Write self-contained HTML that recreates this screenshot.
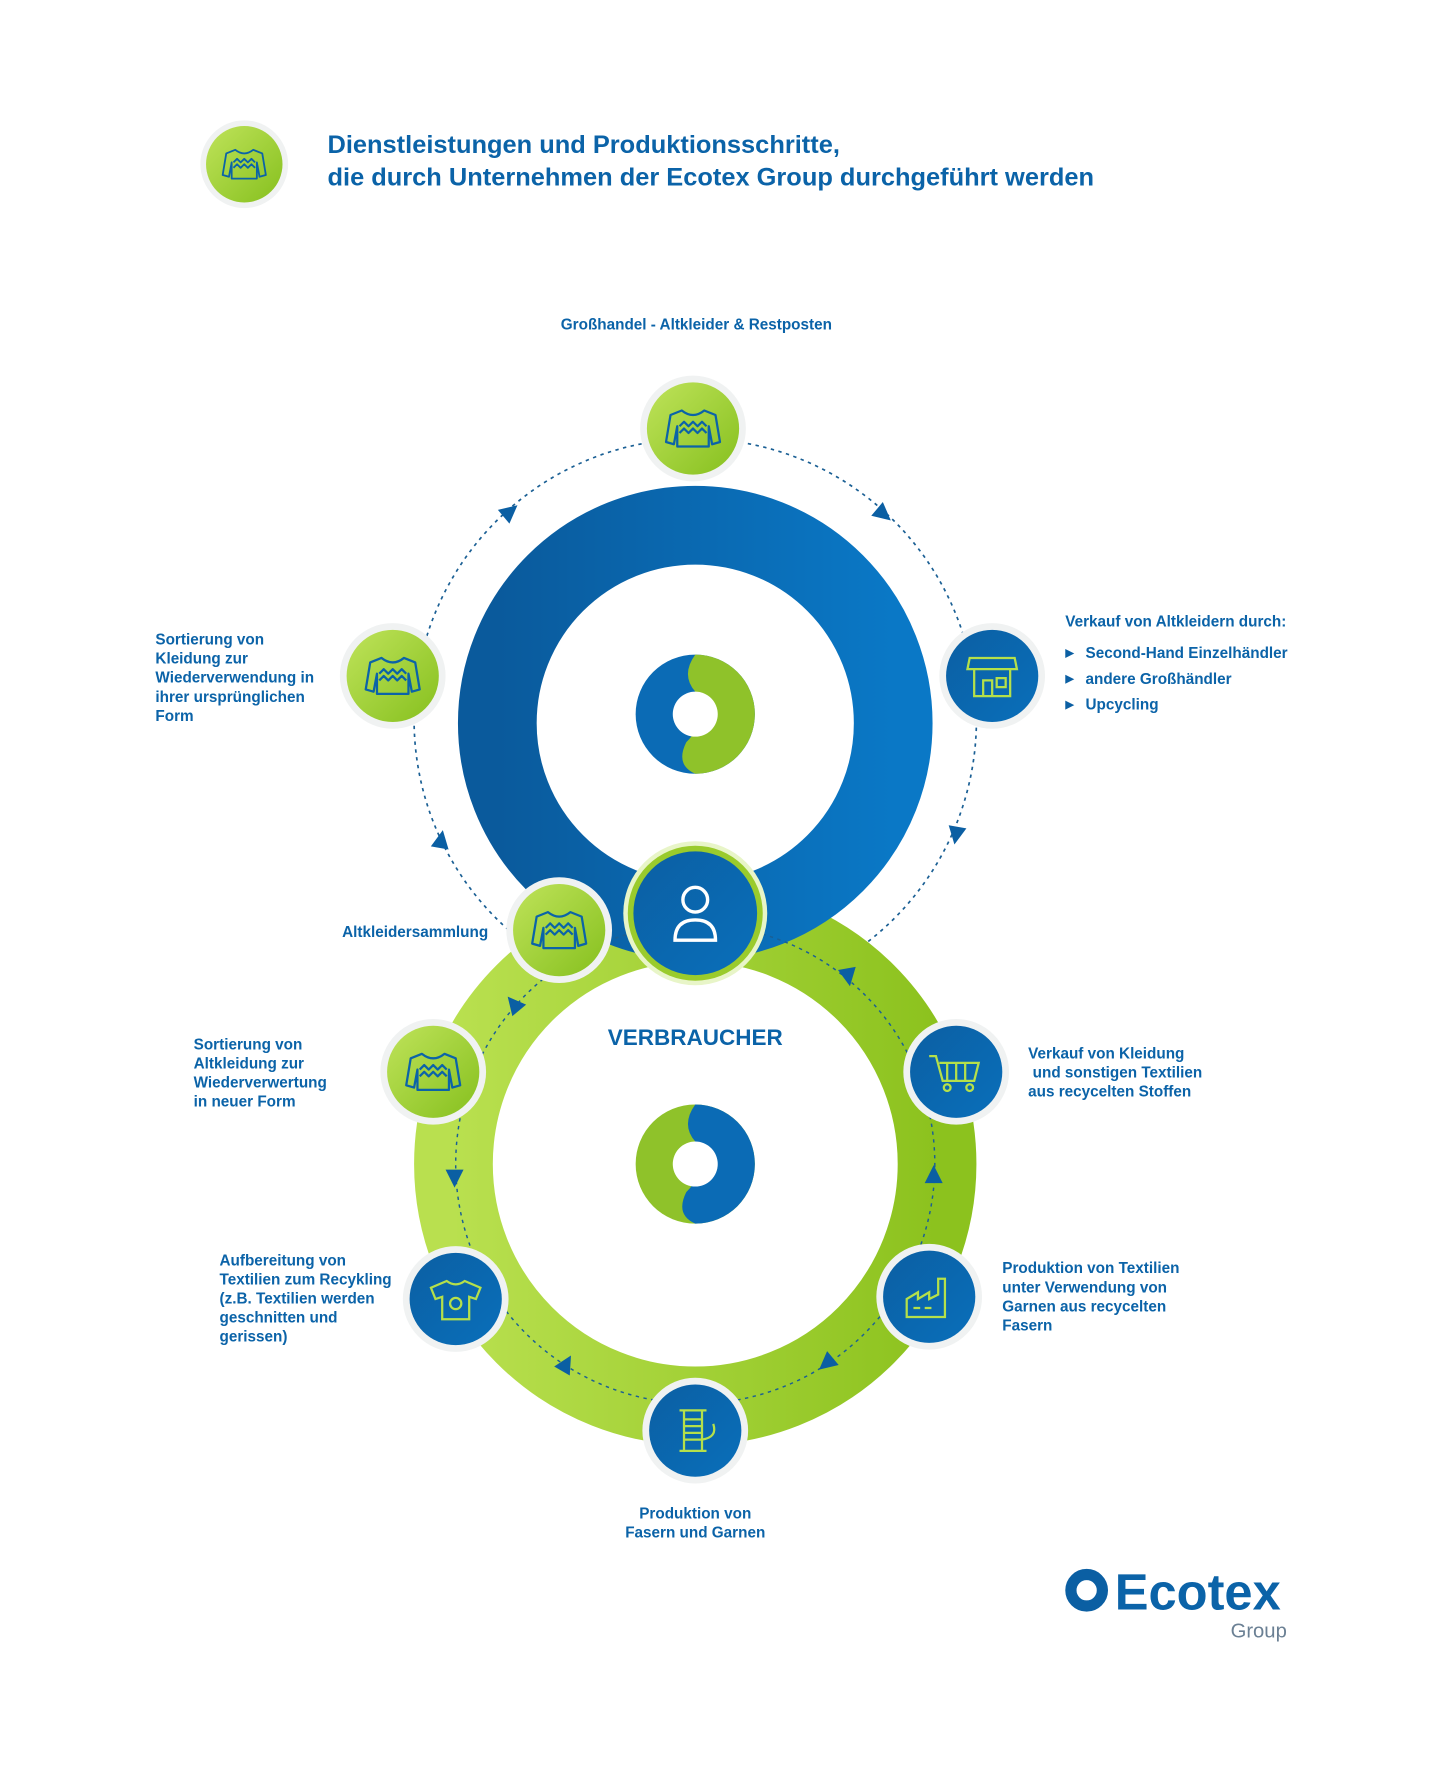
<!DOCTYPE html>
<html><head><meta charset="utf-8">
<style>
html,body{margin:0;padding:0;background:#fff;}
svg{display:block;}
text{font-family:"Liberation Sans",sans-serif;font-weight:bold;fill:#0b63a8;}
</style></head>
<body>
<svg width="1440" height="1768" viewBox="0 0 1280 1572" xmlns="http://www.w3.org/2000/svg">
<defs>
<linearGradient id="blueG" x1="0" y1="0" x2="1" y2="0">
<stop offset="0" stop-color="#0a5a9c"/><stop offset="1" stop-color="#0a78c6"/></linearGradient>
<linearGradient id="greenG" x1="0" y1="0" x2="1" y2="0">
<stop offset="0" stop-color="#b9e04f"/><stop offset="1" stop-color="#8cc21e"/></linearGradient>
<linearGradient id="greenI" x1="0" y1="0" x2="1" y2="1">
<stop offset="0" stop-color="#bfe35a"/><stop offset="1" stop-color="#86c01e"/></linearGradient>
<linearGradient id="blueI" x1="0" y1="0" x2="1" y2="1">
<stop offset="0" stop-color="#0b5fa3"/><stop offset="1" stop-color="#0a6fba"/></linearGradient>
<g id="sweater" fill="none" stroke="#0b63a8" stroke-width="2" stroke-linejoin="round">
<path d="M-10,-16 L-20,-12 L-24,12 L-17,14 L-14,-2 L-14,16 L14,16 L14,-2 L17,14 L24,12 L20,-12 L10,-16 Q0,-8 -10,-16 Z"/>
<path d="M-12,-2 l4,-4 l4,4 l4,-4 l4,4 l4,-4 l4,4 M-12,4 l4,-4 l4,4 l4,-4 l4,4 l4,-4 l4,4"/>
</g>
</defs>

<!-- title -->
<circle cx="217" cy="146" r="39" fill="#f0f2f2"/>
<circle cx="217" cy="146" r="34" fill="url(#greenI)"/>
<use href="#sweater" transform="translate(217 146) scale(0.8)"/>
<text x="291" y="136" font-size="22.6">Dienstleistungen und Produktionsschritte,</text>
<text x="291" y="165" font-size="22.6">die durch Unternehmen der Ecotex Group durchgeführt werden</text>

<!-- dotted circles -->
<circle cx="618" cy="640" r="250" fill="none" stroke="#1a5f94" stroke-width="1.5" stroke-dasharray="3 4"/>
<circle cx="618" cy="1035" r="250" fill="#fff"/>
<!-- green ring -->
<circle cx="618" cy="1035" r="215" fill="none" stroke="url(#greenG)" stroke-width="70"/>
<!-- blue ring -->
<circle cx="618" cy="643" r="176" fill="none" stroke="url(#blueG)" stroke-width="70"/>
<circle cx="618" cy="1035" r="213" fill="none" stroke="#1a5f94" stroke-width="1.3" stroke-dasharray="3 4"/>

<!-- inner donuts -->
<g>
<circle cx="618" cy="635" r="53" fill="#0b6bb5"/>
<path d="M618,582 A53,53 0 0 1 618,688 Q600,680 610,660 Q630,640 618,615 Q605,600 618,582 Z" fill="#8fc22a"/>
<circle cx="618" cy="635" r="20" fill="#fff"/>
<circle cx="618" cy="1035" r="53" fill="#8fc22a"/>
<path d="M618,982 A53,53 0 0 1 618,1088 Q600,1080 610,1060 Q630,1040 618,1015 Q605,1000 618,982 Z" fill="#0b6bb5"/>
<circle cx="618" cy="1035" r="20" fill="#fff"/>
</g>

<!-- arrows -->
<g fill="#0b5fa3">
<polygon points="-7,-8 9,0 -7,8" transform="translate(453,455) rotate(-40)"/>
<polygon points="-7,-8 9,0 -7,8" transform="translate(785,457) rotate(40)"/>
<polygon points="-7,-8 9,0 -7,8" transform="translate(850,742) rotate(100)"/>
<polygon points="-7,-8 9,0 -7,8" transform="translate(392,747) rotate(-80)"/>
<polygon points="-7,-8 9,0 -7,8" transform="translate(754,868) rotate(80)"/>
<polygon points="-7,-8 9,0 -7,8" transform="translate(457,893) rotate(-130)"/>
<polygon points="-7,-8 9,0 -7,8" transform="translate(404,1047) rotate(90)"/>
<polygon points="-7,-8 9,0 -7,8" transform="translate(830,1045) rotate(-90)"/>
<polygon points="-7,-8 9,0 -7,8" transform="translate(503,1213) rotate(-60)"/>
<polygon points="-7,-8 9,0 -7,8" transform="translate(735,1212) rotate(140)"/>
</g>

<!-- icon circles -->
<g>
<circle cx="616" cy="381" r="47" fill="#f0f2f2"/><circle cx="616" cy="381" r="41" fill="url(#greenI)"/>
<use href="#sweater" transform="translate(616 381)"/>
<circle cx="349" cy="601" r="47" fill="#f0f2f2"/><circle cx="349" cy="601" r="41" fill="url(#greenI)"/>
<use href="#sweater" transform="translate(349 601)"/>
<circle cx="882" cy="601" r="47" fill="#f0f2f2"/><circle cx="882" cy="601" r="41" fill="url(#blueI)"/>
<g transform="translate(882 601)" fill="none" stroke="#b5e04a" stroke-width="2"><path d="M-20,-16 L20,-16 L22,-6 L-22,-6 Z M-16,-6 V18 H16 V-6 M-8,18 V4 H0 V18 M4,2 H12 V10 H4 Z"/></g>
<circle cx="497" cy="827" r="47" fill="#f0f2f2"/><circle cx="497" cy="827" r="41" fill="url(#greenI)"/>
<use href="#sweater" transform="translate(497 827)"/>
<circle cx="385" cy="953" r="47" fill="#f0f2f2"/><circle cx="385" cy="953" r="41" fill="url(#greenI)"/>
<use href="#sweater" transform="translate(385 953)"/>
<circle cx="850" cy="953" r="47" fill="#f0f2f2"/><circle cx="850" cy="953" r="41" fill="url(#blueI)"/>
<g transform="translate(850 953)" fill="none" stroke="#b5e04a" stroke-width="2"><path d="M-24,-14 H-18 L-12,8 H16 L20,-8 H-15 M-8,-8 V8 M0,-8 V8 M8,-8 V8"/><circle cx="-8" cy="14" r="3"/><circle cx="12" cy="14" r="3"/></g>
<circle cx="405" cy="1155" r="47" fill="#f0f2f2"/><circle cx="405" cy="1155" r="41" fill="url(#blueI)"/>
<g transform="translate(405 1155)" fill="none" stroke="#b5e04a" stroke-width="2"><path d="M-8,-16 L-22,-10 L-18,0 L-12,-2 V18 H12 V-2 L18,0 L22,-10 L8,-16 Q0,-10 -8,-16 Z"/><circle cx="0" cy="4" r="5"/></g>
<circle cx="826" cy="1153" r="47" fill="#f0f2f2"/><circle cx="826" cy="1153" r="41" fill="url(#blueI)"/>
<g transform="translate(826 1153)" fill="none" stroke="#b5e04a" stroke-width="2"><path d="M-20,18 V2 L-10,-4 V2 L0,-4 V2 L8,-2 V-16 H14 V18 Z M-14,10 H-8 M-4,10 H2"/></g>
<circle cx="618" cy="1272" r="47" fill="#f0f2f2"/><circle cx="618" cy="1272" r="41" fill="url(#blueI)"/>
<g transform="translate(618 1272)" fill="none" stroke="#b5e04a" stroke-width="2"><path d="M-14,-18 H10 M-14,18 H10 M-10,-18 V18 M6,-18 V18 M-10,-10 H6 M-10,-4 H6 M-10,2 H6 M-10,8 H6 M6,8 Q20,6 16,-6"/></g>
<!-- person -->
<circle cx="618" cy="812" r="64" fill="#e8f5c8"/>
<circle cx="618" cy="812" r="60" fill="#9acb2c"/>
<circle cx="618" cy="812" r="55" fill="url(#blueI)"/>
<g transform="translate(618 812)" fill="none" stroke="#fff" stroke-width="3"><circle cx="0" cy="-12" r="11"/><path d="M-18,24 H18 Q18,6 0,6 Q-18,6 -18,24 Z"/></g>
</g>

<!-- labels -->
<g font-size="13.6">
<text x="619" y="293" text-anchor="middle">Großhandel - Altkleider &amp; Restposten</text>
<text x="138" y="573">Sortierung von</text>
<text x="138" y="590">Kleidung zur</text>
<text x="138" y="607">Wiederverwendung in</text>
<text x="138" y="624">ihrer ursprünglichen</text>
<text x="138" y="641">Form</text>
<text x="947" y="557">Verkauf von Altkleidern durch:</text>
<text x="965" y="585">Second-Hand Einzelhändler</text>
<text x="965" y="608">andere Großhändler</text>
<text x="965" y="631">Upcycling</text>
<text x="304" y="833">Altkleidersammlung</text>
<text x="172" y="933">Sortierung von</text>
<text x="172" y="950">Altkleidung zur</text>
<text x="172" y="967">Wiederverwertung</text>
<text x="172" y="984">in neuer Form</text>
<text x="914" y="941">Verkauf von Kleidung</text>
<text x="918" y="958">und sonstigen Textilien</text>
<text x="914" y="975">aus recycelten Stoffen</text>
<text x="195" y="1125">Aufbereitung von</text>
<text x="195" y="1142">Textilien zum Recykling</text>
<text x="195" y="1159">(z.B. Textilien werden</text>
<text x="195" y="1176">geschnitten und</text>
<text x="195" y="1193">gerissen)</text>
<text x="891" y="1132">Produktion von Textilien</text>
<text x="891" y="1149">unter Verwendung von</text>
<text x="891" y="1166">Garnen aus recycelten</text>
<text x="891" y="1183">Fasern</text>
<text x="618" y="1350" text-anchor="middle">Produktion von</text>
<text x="618" y="1367" text-anchor="middle">Fasern und Garnen</text>
</g>
<g fill="#0b5fa3">
<polygon points="947,577 955,581 947,585"/>
<polygon points="947,600 955,604 947,608"/>
<polygon points="947,623 955,627 947,631"/>
</g>
<text x="618" y="929" text-anchor="middle" font-size="20">VERBRAUCHER</text>

<!-- logo -->
<circle cx="966" cy="1414" r="14" fill="none" stroke="#0b5fa3" stroke-width="10"/>
<text x="991" y="1431" font-size="45">Ecotex</text>
<text x="1144" y="1456" font-size="18" text-anchor="end" style="font-weight:normal;fill:#6b8094">Group</text>
</svg>
</body></html>
